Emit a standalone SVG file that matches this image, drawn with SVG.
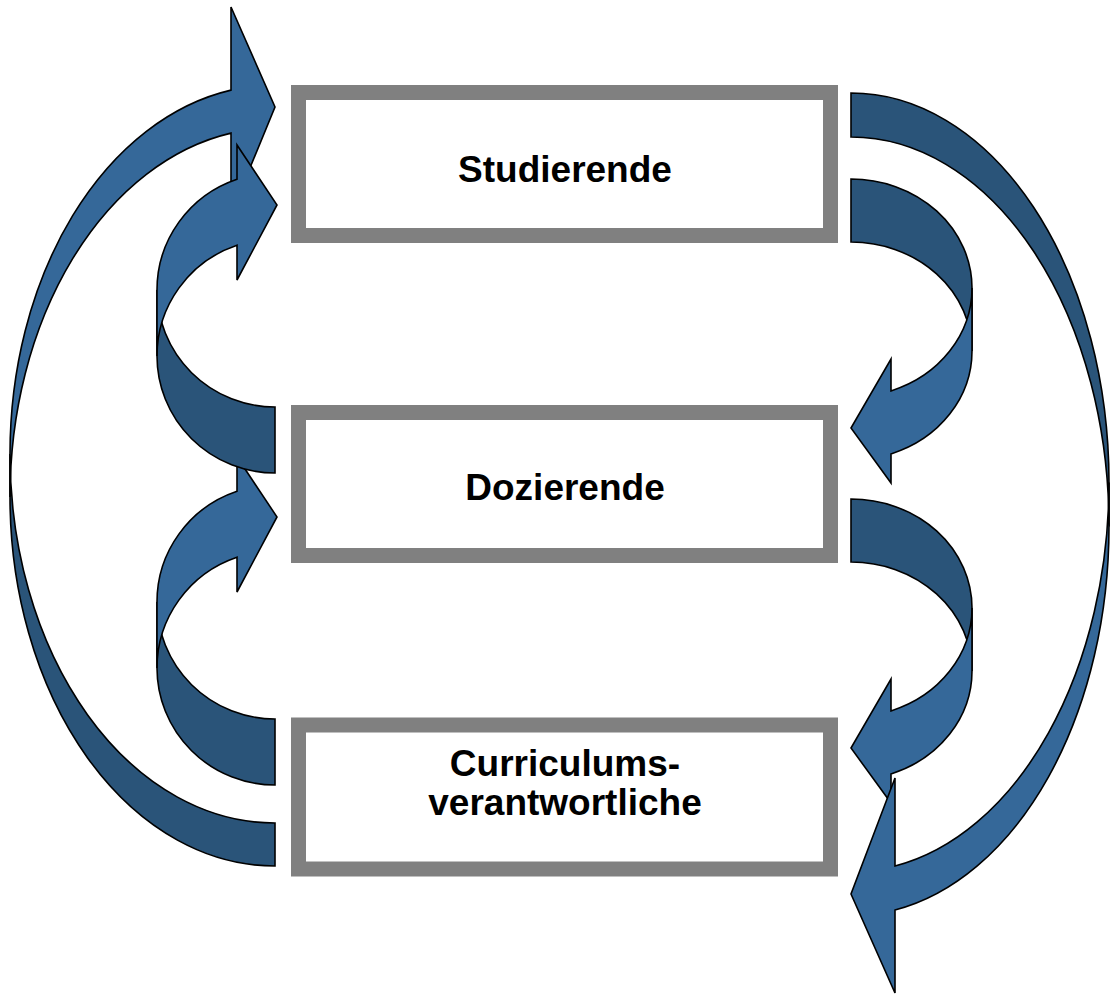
<svg xmlns="http://www.w3.org/2000/svg" width="1110" height="995" viewBox="0 0 1110 995">
  <style>
    .box { fill: #ffffff; stroke: #808080; stroke-width: 15; }
    .lbl { font-family: "Liberation Sans", Arial, sans-serif; font-weight: bold; font-size: 37px; fill: #000000; text-anchor: middle; }
    .front { fill: #356899; stroke: #000000; stroke-width: 1.6; stroke-linejoin: miter; }
    .back { fill: #2a5479; stroke: #000000; stroke-width: 1.6; stroke-linejoin: miter; }
  </style>
  <rect width="1110" height="995" fill="#ffffff"/>
  <g id="connectors">
    <g id="arrow-curriculum-to-studierende">
      <path class="back" d="M275,823 A265,369 0 0 1 10,454 L10,497 A265,369 0 0 0 275,866 Z"/>
      <path class="front" d="M10,454 A265,369 0 0 1 231,90.1 L231,7 L275,107 L231,214 L231,133.1 A265,369 0 0 0 10,497 Z"/>
    </g>
    <g id="arrow-curriculum-to-dozierende">
      <path class="back" d="M275,719 A118,117 0 0 1 157,602 L157,668 A118,117 0 0 0 275,785 Z"/>
      <path class="front" d="M157,602 A118,117 0 0 1 237,491.2 L237,457 L277,517 L237,592 L237,557.2 A118,117 0 0 0 157,668 Z"/>
    </g>
    <g id="arrow-dozierende-to-studierende">
      <path class="back" d="M275,407 A118,117 0 0 1 157,290 L157,356 A118,117 0 0 0 275,473 Z"/>
      <path class="front" d="M157,290 A118,117 0 0 1 237,179.2 L237,145 L277,205 L237,280 L237,245.2 A118,117 0 0 0 157,356 Z"/>
    </g>
    <g id="arrow-studierende-to-dozierende">
      <path class="back" d="M851,179 A121,109 0 0 1 972,288 L972,351 A121,109 0 0 0 851,242 Z"/>
      <path class="front" d="M972,288 A121,109 0 0 1 891,390.9 L891,359 L851,428 L891,483 L891,453.9 A121,109 0 0 0 972,351 Z"/>
    </g>
    <g id="arrow-dozierende-to-curriculum">
      <path class="back" d="M851,499 A121,109 0 0 1 972,608 L972,671 A121,109 0 0 0 851,562 Z"/>
      <path class="front" d="M972,608 A121,109 0 0 1 891,710.9 L891,679 L851,748 L891,803 L891,773.9 A121,109 0 0 0 972,671 Z"/>
    </g>
    <g id="arrow-studierende-to-curriculum">
      <path class="back" d="M851,93 A258,389.4 0 0 1 1109,482.4 L1109,526.4 A258,389.4 0 0 0 851,137 Z"/>
      <path class="front" d="M1109,482.4 A258,389.4 0 0 1 895,866 L895,778 L851,894 L895,993 L895,910 A258,389.4 0 0 0 1109,526.4 Z"/>
    </g>
  </g>
  <g id="node-studierende">
    <rect class="box" x="298.5" y="92.5" width="532" height="143"/>
    <text class="lbl" x="565" y="182">Studierende</text>
  </g>
  <g id="node-dozierende">
    <rect class="box" x="298.5" y="412.5" width="532" height="143"/>
    <text class="lbl" x="565" y="500">Dozierende</text>
  </g>
  <g id="node-curriculumsverantwortliche">
    <rect class="box" x="298.5" y="725" width="532" height="144"/>
    <text class="lbl" x="565" y="776">Curriculums-</text>
    <text class="lbl" x="565" y="815">verantwortliche</text>
  </g>
</svg>
